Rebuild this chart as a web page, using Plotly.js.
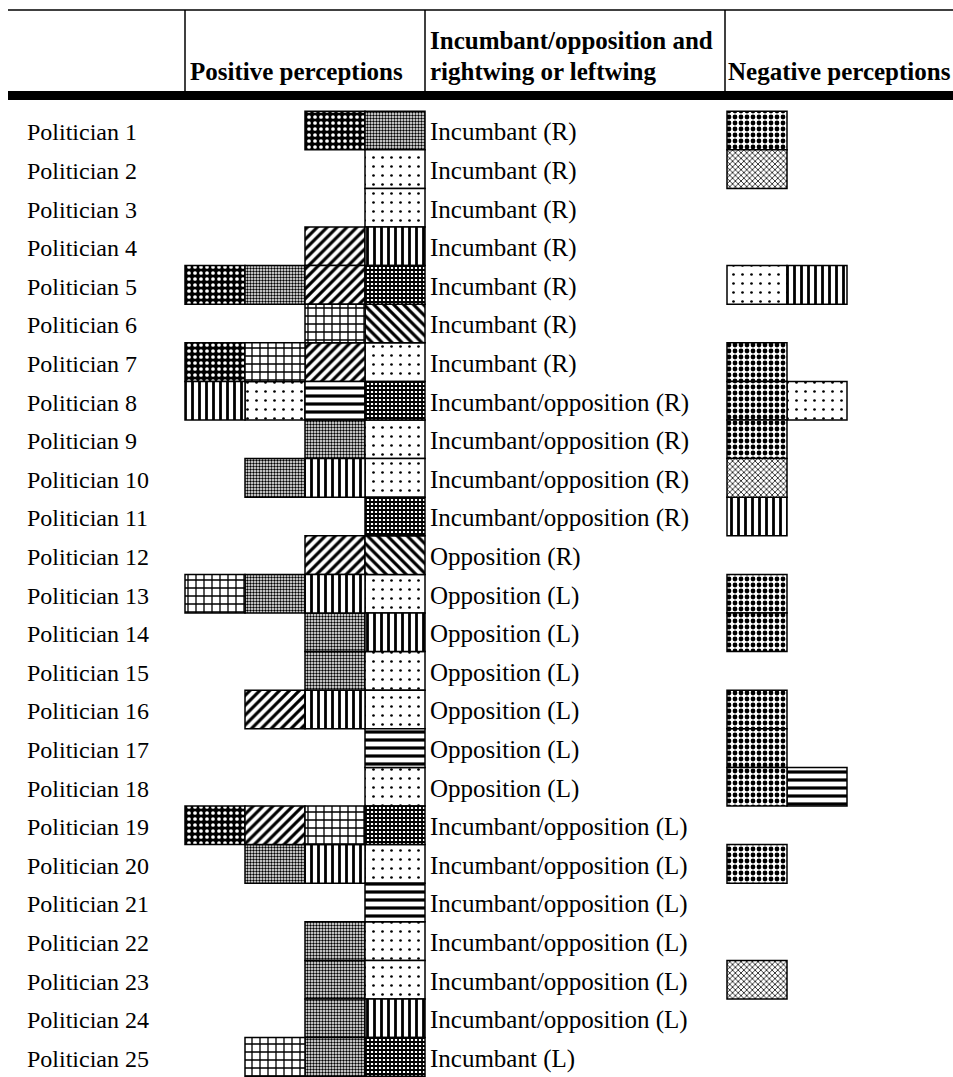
<!DOCTYPE html>
<html>
<head>
<meta charset="utf-8">
<script src="https://cdn.plot.ly/plotly-3.0.1.min.js"></script>
<style>html,body{margin:0;padding:0;background:#fff;}#chart{width:953px;height:1077px;}</style>
</head>
<body>
<div id="chart"></div>
<script>
// ---- Data ----
const politicians = ['Politician 1','Politician 2','Politician 3','Politician 4','Politician 5',
  'Politician 6','Politician 7','Politician 8','Politician 9','Politician 10','Politician 11',
  'Politician 12','Politician 13','Politician 14','Politician 15','Politician 16','Politician 17',
  'Politician 18','Politician 19','Politician 20','Politician 21','Politician 22','Politician 23',
  'Politician 24','Politician 25'];

const affiliation = ['Incumbant (R)','Incumbant (R)','Incumbant (R)','Incumbant (R)','Incumbant (R)',
  'Incumbant (R)','Incumbant (R)','Incumbant/opposition (R)','Incumbant/opposition (R)',
  'Incumbant/opposition (R)','Incumbant/opposition (R)','Opposition (R)','Opposition (L)',
  'Opposition (L)','Opposition (L)','Opposition (L)','Opposition (L)','Opposition (L)',
  'Incumbant/opposition (L)','Incumbant/opposition (L)','Incumbant/opposition (L)',
  'Incumbant/opposition (L)','Incumbant/opposition (L)','Incumbant/opposition (L)','Incumbant (L)'];

// positive perception cells, left to right (right-aligned against the middle column)
const positive = [
  ['brick','grey'],
  ['dots'],
  ['dots'],
  ['diag','vert'],
  ['brick','grey','diag','darkgrid'],
  ['grid','backdiag'],
  ['brick','grid','diag','dots'],
  ['vert','dots','horiz','darkgrid'],
  ['grey','dots'],
  ['grey','vert','dots'],
  ['darkgrid'],
  ['diag','backdiag'],
  ['grid','grey','vert','dots'],
  ['grey','vert'],
  ['grey','dots'],
  ['diag','vert','dots'],
  ['horiz'],
  ['dots'],
  ['brick','diag','grid','darkgrid'],
  ['grey','vert','dots'],
  ['horiz'],
  ['grey','dots'],
  ['grey','dots'],
  ['grey','vert'],
  ['grid','grey','darkgrid']
];

// negative perception cells, left to right
const negative = [
  ['checker'], ['diamond'], [], [], ['dots','vert'], [], ['checker'], ['checker','dots'],
  ['checker'], ['diamond'], ['vert'], [], ['checker'], ['checker'], [], ['checker'],
  ['checker'], ['checker','horiz'], [], ['checker'], [], [], ['diamond'], [], []
];

const headers = {
  positive: 'Positive perceptions',
  middle1: 'Incumbant/opposition and',
  middle2: 'rightwing or leftwing',
  negative: 'Negative perceptions'
};

// ---- Styles ----
const styles = {
  brick:    {shape:'.',  fg:'#ffffff', bg:'#000000', size:6,  solidity:0.3},
  grey:     {shape:'.',  fg:'#000000', bg:'#ffffff', size:3,  solidity:0.5},
  dots:     {shape:'.',  fg:'#000000', bg:'#ffffff', size:9,  solidity:0.07},
  diag:     {shape:'/',  fg:'#000000', bg:'#ffffff', size:7,  solidity:0.45},
  backdiag: {shape:'\\', fg:'#000000', bg:'#ffffff', size:7,  solidity:0.45},
  vert:     {shape:'|',  fg:'#000000', bg:'#ffffff', size:7,  solidity:0.4},
  horiz:    {shape:'-',  fg:'#000000', bg:'#ffffff', size:8,  solidity:0.4},
  grid:     {shape:'+',  fg:'#000000', bg:'#ffffff', size:8,  solidity:0.3},
  darkgrid: {shape:'+',  fg:'#000000', bg:'#ffffff', size:4,  solidity:0.7},
  checker:  {shape:'.',  fg:'#000000', bg:'#ffffff', size:6,  solidity:0.5},
  diamond:  {shape:'x',  fg:'#000000', bg:'#ffffff', size:4,  solidity:0.35}
};

const W = 953, H = 1077;
const CELL = 60;            // px per unit on x
const X0 = 185;             // px where x=0
const NEG_START = (727 - X0) / CELL;
const MID_TEXT = (428 - X0) / CELL;
const NAME_X = (25 - X0) / CELL;
const ROW_H = 38.6, ROW0 = 130.5;
const TEXT_DY = 0.05;       // small downward nudge of row text (row units)

// ---- Build traces ----
const cells = {};
Object.keys(styles).forEach(k => cells[k] = {y: [], x: [], base: []});
positive.forEach((row, i) => {
  row.forEach((s, k) => {
    cells[s].y.push(i); cells[s].x.push(1); cells[s].base.push(4 - row.length + k);
  });
});
negative.forEach((row, i) => {
  row.forEach((s, k) => {
    cells[s].y.push(i); cells[s].x.push(1); cells[s].base.push(NEG_START + k);
  });
});

const traces = Object.keys(styles).filter(k => cells[k].y.length).map(k => {
  const st = styles[k];
  return {
    type: 'bar', orientation: 'h', name: k,
    y: cells[k].y, x: cells[k].x, base: cells[k].base, width: 1,
    marker: {
      color: st.bg,
      line: {color: '#000', width: 1.5},
      pattern: {shape: st.shape, fgcolor: st.fg, bgcolor: st.bg, size: st.size,
                solidity: st.solidity, fillmode: 'replace'}
    },
    hoverinfo: 'skip'
  };
});

// ---- Annotations ----
const serif = 'Liberation Serif, Times New Roman, serif';
const annotations = [];
politicians.forEach((p, i) => {
  annotations.push({x: NAME_X, y: i + TEXT_DY, xref: 'x', yref: 'y', text: p, showarrow: false,
    xanchor: 'left', yanchor: 'middle', font: {family: serif, size: 24, color: '#000'}});
  annotations.push({x: MID_TEXT, y: i + TEXT_DY, xref: 'x', yref: 'y', text: affiliation[i], showarrow: false,
    xanchor: 'left', yanchor: 'middle', font: {family: serif, size: 25, color: '#000'}});
});
const px = v => v / W, py = v => 1 - v / H;
const hdr = (x, y, t) => ({x: px(x), y: py(y), xref: 'paper', yref: 'paper', text: '<b>' + t + '</b>',
  showarrow: false, xanchor: 'left', yanchor: 'middle', font: {family: serif, size: 25, color: '#000'}});
annotations.push(hdr(188, 72, headers.positive));
annotations.push(hdr(428, 40, headers.middle1));
annotations.push(hdr(428, 72, headers.middle2));
annotations.push(hdr(726, 72, headers.negative));

// ---- Header lines ----
const line = (x0, y0, x1, y1, w) => ({type: 'line', xref: 'paper', yref: 'paper',
  x0: px(x0), y0: py(y0), x1: px(x1), y1: py(y1), line: {color: '#000', width: w}});
const shapes = [
  line(8, 10, 953, 10, 1.5),
  line(185, 10, 185, 92, 1.5),
  line(425, 10, 425, 92, 1.5),
  line(725, 10, 725, 92, 1.5),
  {type: 'rect', xref: 'paper', yref: 'paper', x0: px(8), x1: px(953), y0: py(100), y1: py(91),
   fillcolor: '#000', line: {width: 0}}
];

const layout = {
  width: W, height: H,
  margin: {l: 0, r: 0, t: 0, b: 0, pad: 0},
  paper_bgcolor: '#fff', plot_bgcolor: '#fff',
  showlegend: false, barmode: 'overlay',
  xaxis: {range: [-X0 / CELL, (W - X0) / CELL], visible: false, fixedrange: true},
  yaxis: {range: [(H - ROW0) / ROW_H, -ROW0 / ROW_H], visible: false, fixedrange: true},
  annotations: annotations,
  shapes: shapes
};

Plotly.newPlot('chart', traces, layout, {displayModeBar: false, staticPlot: true});
</script>
</body>
</html>
